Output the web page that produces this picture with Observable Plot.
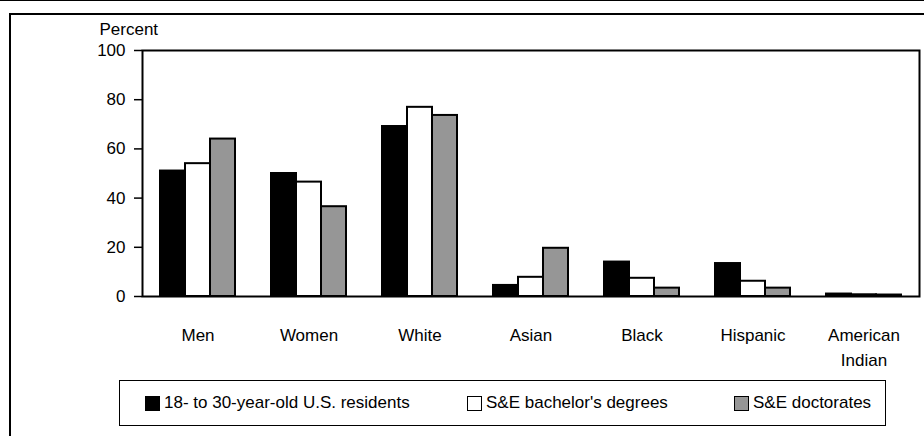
<!DOCTYPE html>
<html><head><meta charset="utf-8">
<script src="https://cdn.jsdelivr.net/npm/d3@7"></script>
<script src="https://cdn.jsdelivr.net/npm/@observablehq/plot@0.6"></script>
<style>
body{margin:0;background:#fff;font-family:"Liberation Sans",Arial,sans-serif;}
#wrap{position:relative;width:924px;height:436px;overflow:hidden;background:#fff;}
#topline{position:absolute;left:0;top:0;width:924px;height:1px;background:#000;}
#outer{position:absolute;left:9px;top:13px;width:940px;height:460px;border-top:2px solid #000;border-left:2px solid #000;}
#chart{position:absolute;left:0;top:19px;}
#legend{position:absolute;left:119px;top:380px;width:767px;height:46px;border:1px solid #000;box-sizing:border-box;font-size:17px;color:#000;}
.item{position:absolute;top:0;height:44px;display:flex;align-items:center;white-space:nowrap;}
.sw{display:inline-block;width:13px;height:13px;border:1px solid #000;margin-right:4px;}
</style>
</head><body>
<div id="wrap">
  <div id="topline"></div>
  <div id="outer"></div>
  <div id="chart"></div>
  <div id="legend"></div>
</div>
<script>
const categories = ["Men", "Women", "White", "Asian", "Black", "Hispanic", "American Indian"];
const tickLabels = ["Men", "Women", "White", "Asian", "Black", "Hispanic", "American\nIndian"];
const seriesNames = ["18- to 30-year-old U.S. residents", "S&E bachelor's degrees", "S&E doctorates"];
const seriesColors = ["#000000", "#ffffff", "#969696"];
const residents  = [51, 50, 69.1, 4.5, 14, 13.4, 1.0];
const bachelors  = [54, 46.5, 76.9, 7.8, 7.4, 6.2, 0.7];
const doctorates = [64, 36.5, 73.6, 19.6, 3.4, 3.4, 0.6];
const yTicks = [0, 20, 40, 60, 80, 100];

const seriesValues = [residents, bachelors, doctorates];
const rows = [];
seriesValues.forEach((vals, s) => categories.forEach((c, i) => rows.push({category: c, series: seriesNames[s], value: vals[i]})));

const bandW = 75; // group width in px (3 bars)
const barW = bandW / 3;
const marks = seriesNames.map((name, s) => Plot.barY(rows.filter(d => d.series === name), {
  x: "category", y: "value", fill: seriesColors[s], stroke: "#000", strokeWidth: 2,
  insetLeft: s * barW, insetRight: (2 - s) * barW
}));

const chart = Plot.plot({
  width: 924, height: 356,
  marginLeft: 142, marginRight: 5, marginTop: 31, marginBottom: 79,
  style: {fontFamily: "'Liberation Sans', Arial, sans-serif", fontSize: "17px", color: "#000", background: "transparent"},
  x: {domain: categories, paddingInner: 0.324, paddingOuter: 0.153, align: 0.5},
  y: {domain: [0, 100]},
  marks: [
    ...marks,
    Plot.frame({stroke: "#000", strokeWidth: 2}),
    Plot.axisY({ticks: yTicks, tickSize: 8, tickPadding: 9, strokeWidth: 1.5, label: "Percent", labelAnchor: "top", labelArrow: "none", labelOffset: 43}),
    Plot.axisX({tickSize: 0, tickPadding: 26, tickFormat: (d) => tickLabels[categories.indexOf(d)], lineHeight: 1.5, label: null})
  ]
});
document.getElementById("chart").appendChild(chart);

const legend = document.getElementById("legend");
const lefts = [25, 347, 614];
seriesNames.forEach((n, s) => {
  const it = document.createElement("div");
  it.className = "item";
  it.style.left = lefts[s] + "px";
  const sw = document.createElement("span");
  sw.className = "sw";
  sw.style.background = seriesColors[s];
  it.appendChild(sw);
  it.appendChild(document.createTextNode(n));
  legend.appendChild(it);
});
</script>
</body></html>
